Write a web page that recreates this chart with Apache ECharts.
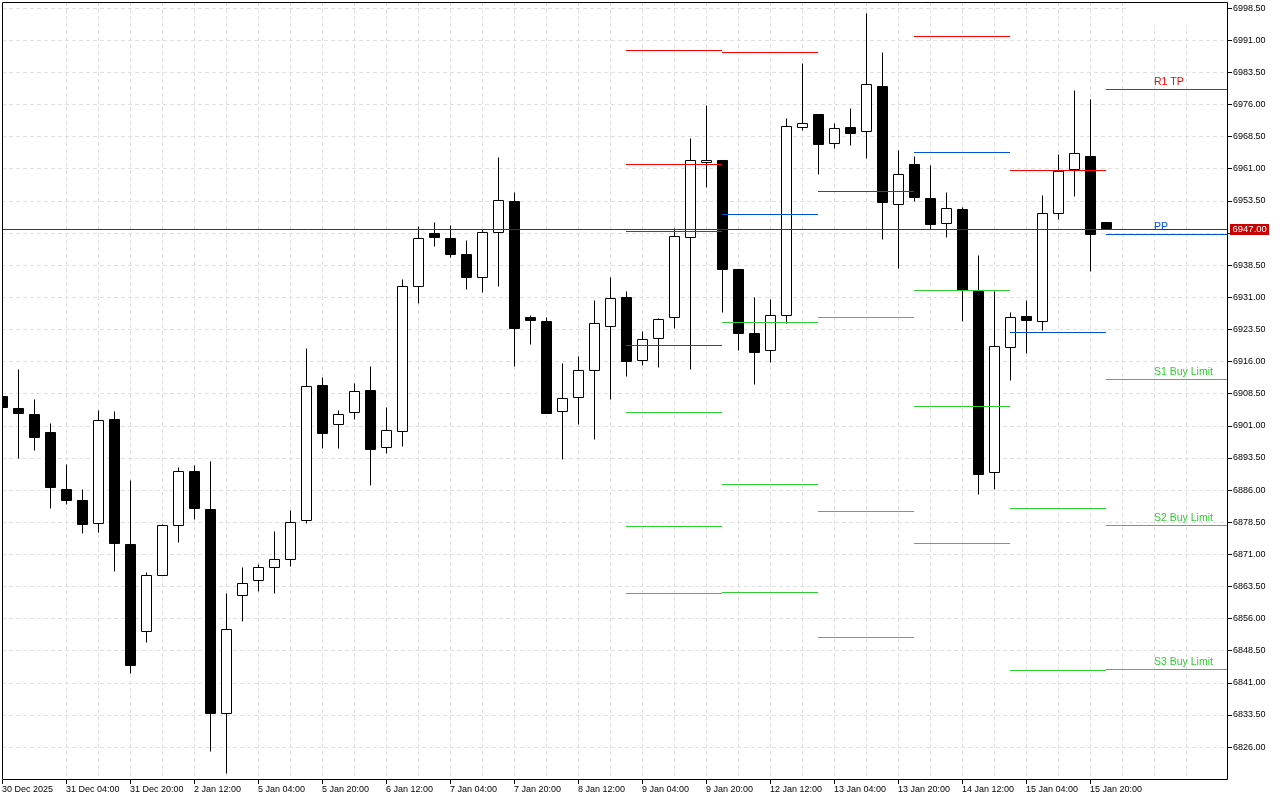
<!DOCTYPE html>
<html>
<head>
<meta charset="utf-8">
<style>html,body{margin:0;padding:0;background:#fff}#chart{width:1280px;height:800px}</style>
<script src="https://cdn.jsdelivr.net/npm/echarts@6/dist/echarts.min.js"></script>
</head>
<body>
<div id="chart"></div>
<script>
// H4 bars, index = bar number from the left edge: [open, close, low, high]
var bars = [
  [6907.9,6905.4,6905.4,6907.9],[6905.1,6904.0,6893.4,6914.3],[6903.7,6898.4,6895.2,6907.3],[6899.5,6886.7,6881.7,6901.5],
  [6886.2,6883.7,6882.6,6892.1],[6883.6,6878.1,6875.9,6886.1],[6878.2,6902.2,6876.1,6904.7],[6902.5,6873.7,6867.0,6904.5],
  [6873.4,6845.0,6843.2,6888.4],[6853.1,6866.0,6850.4,6866.7],[6866.2,6877.7,6866.2,6878.1],[6877.7,6890.3,6873.8,6891.4],
  [6890.4,6881.8,6879.1,6891.9],[6881.5,6834.0,6825.0,6892.8],[6833.8,6853.4,6819.8,6861.8],[6861.4,6864.2,6855.3,6867.9],
  [6864.9,6867.9,6862.3,6868.6],[6867.9,6869.8,6861.9,6876.5],[6869.8,6878.4,6868.2,6881.4],[6878.9,6910.2,6878.2,6919.2],
  [6910.5,6899.3,6895.7,6912.4],[6901.3,6903.6,6895.7,6904.7],[6904.1,6909.0,6902.5,6911.0],[6909.3,6895.6,6887.1,6915.0],
  [6895.9,6899.9,6894.5,6905.4],[6899.8,6933.5,6896.2,6935.1],[6933.5,6944.7,6929.6,6947.5],[6945.9,6945.1,6942.9,6948.6],
  [6944.8,6941.0,6940.3,6947.9],[6941.0,6935.7,6932.8,6944.2],[6935.6,6946.1,6932.1,6946.8],[6946.1,6953.6,6933.5,6963.6],
  [6953.4,6923.8,6914.9,6955.4],[6926.3,6925.6,6920.0,6926.9],[6925.4,6904.0,6904.0,6926.4],[6904.3,6907.4,6893.1,6915.5],
  [6907.6,6913.9,6901.3,6917.3],[6913.9,6924.9,6897.8,6930.2],[6924.2,6930.7,6907.2,6935.6],[6931.0,6916.1,6912.5,6932.3],
  [6916.2,6921.1,6915.1,6923.0],[6921.4,6925.8,6914.6,6926.2],[6926.3,6945.2,6923.7,6947.0],[6944.9,6962.9,6914.1,6968.2],
  [6962.6,6962.9,6956.6,6975.7],[6963.0,6937.6,6927.5,6963.0],[6937.5,6922.7,6918.6,6937.5],[6922.6,6918.2,6910.6,6931.1],
  [6918.6,6926.7,6915.8,6930.6],[6926.7,6970.8,6924.9,6972.7],[6970.6,6971.5,6969.9,6985.5],[6973.7,6966.8,6959.7,6973.7],
  [6966.9,6970.4,6965.7,6971.7],[6970.7,6969.3,6966.4,6975.0],[6969.7,6980.6,6963.4,6997.2],[6980.2,6953.2,6944.5,6988.3],
  [6952.6,6959.6,6937.7,6965.2],[6962.0,6954.4,6953.5,6964.0],[6954.1,6948.1,6946.9,6961.7],[6948.2,6951.7,6945.0,6955.6],
  [6951.5,6932.6,6925.4,6952.0],[6932.5,6889.8,6885.0,6940.9],[6890.1,6919.5,6886.1,6932.3],[6919.3,6926.3,6911.6,6927.4],
  [6926.6,6925.7,6917.9,6930.4],[6925.3,6950.5,6923.4,6954.9],[6950.5,6960.4,6949.3,6964.3],[6960.8,6964.5,6954.5,6979.4],
  [6963.9,6945.8,6937.0,6977.3],[6948.5,6947.0,6947.0,6948.5]
];

// one label every 4 bars, one grid line every 2
var timeLabels = ['30 Dec 2025','31 Dec 04:00','31 Dec 20:00','2 Jan 12:00','5 Jan 04:00','5 Jan 20:00','6 Jan 12:00',
  '7 Jan 04:00','7 Jan 20:00','8 Jan 12:00','9 Jan 04:00','9 Jan 20:00','12 Jan 12:00','13 Jan 04:00','13 Jan 20:00',
  '14 Jan 12:00','15 Jan 04:00','15 Jan 20:00'];
var timeTicks = timeLabels.map(function (t, i) { return i * 4; });
var gridTicks = [];
for (var t = 2; t <= 76; t += 2) gridTicks.push(t);

var priceTicks = [6998.5,6991,6983.5,6976,6968.5,6961,6953.5,6946,6938.5,6931,6923.5,6916,6908.5,6901,6893.5,6886,
  6878.5,6871,6863.5,6856,6848.5,6841,6833.5,6826];

var lastPrice = 6947;
var lastBar = 76.5625;

// daily levels: [from bar, to bar, price]
var redLevels = [[39,45,6988.8],[39,45,6962.2],[39,45,6946.5],[45,51,6988.3],[57,63,6992.0],[63,69,6960.8],[69,lastBar,6979.7]];
var blueLevels = [[39,45,6919.9],[45,51,6950.5],[51,57,6955.9],[57,63,6965.0],[63,69,6923.0],[69,lastBar,6945.8]];
var greenLevels = [[39,45,6904.3],[39,45,6877.7],[39,45,6862.0],[45,51,6925.3],[45,51,6887.5],[45,51,6862.3],
  [51,57,6926.4],[51,57,6881.2],[51,57,6851.8],[57,63,6932.8],[57,63,6905.7],[57,63,6873.7],
  [63,69,6881.9],[63,69,6844.1],[69,lastBar,6912.0],[69,lastBar,6877.9],[69,lastBar,6844.3]];

// level name, price, colour
var levelNames = [['R1 TP',6979.7,'#ff0000'],['PP',6945.8,'#0050d8'],['S1 Buy Limit',6912.0,'#32cd32'],
  ['S2 Buy Limit',6877.9,'#32cd32'],['S3 Buy Limit',6844.3,'#32cd32']];
var labelBar = 72;

var font = '"Liberation Sans", Arial, sans-serif';

// price scale of the plot: price at y = 0 of the page, and price per pixel
var priceAtZero = 7000.437;
var pricePerPx = 0.2334;

// the terminal draws bars on whole pixel rows, so do the same
function snap(p) {
  var row = Math.round((priceAtZero - p) / pricePerPx - 0.5);
  return priceAtZero - (row + 0.5) * pricePerPx;
}

function levelSeries(rows, color) {
  return {
    type: 'custom',
    coordinateSystem: 'cartesian2d',
    xAxisIndex: 0,
    z: 5,
    silent: true,
    data: rows,
    encode: { x: [0, 1], y: 2 },
    renderItem: function (params, api) {
      var a = api.coord([api.value(0), api.value(2)]);
      var b = api.coord([api.value(1), api.value(2)]);
      var y = Math.round(a[1]) + 0.5;
      return {
        type: 'line',
        shape: { x1: Math.floor(a[0]), y1: y, x2: Math.floor(b[0]), y2: y },
        style: { stroke: color, lineWidth: 1 }
      };
    }
  };
}

var chart = echarts.init(document.getElementById('chart'));
var option = {
  animation: false,
  backgroundColor: '#fff',
  grid: { left: 2, top: 2, width: 1226, height: 778, outerBoundsMode: 'none' },
  graphic: [
    // the terminal leaves the top right corner without grid lines
    { type: 'rect', z: 1, silent: true, shape: { x: 1127, y: 3, width: 100, height: 22 }, style: { fill: '#fff' } },
    // first bar is cut off at the left edge of the plot
    { type: 'rect', z: 8, silent: true, shape: { x: 0, y: 3, width: 2, height: 776 }, style: { fill: '#fff' } },
    // plot frame
    { type: 'rect', z: 9, silent: true, shape: { x: 2.5, y: 2.5, width: 1225, height: 777 }, style: { fill: 'none', stroke: '#000', lineWidth: 1 } }
  ],
  // bars sit half a pixel off the ticks, so the series have their own hidden axes
  xAxis: [{
    type: 'value', show: false, min: -0.03125, max: 76.59375
  }, {
    type: 'value', min: 0, max: 76.625,
    axisLine: { show: false }, axisLabel: { show: false },
    axisTick: { show: false, customValues: gridTicks },
    splitLine: { show: true, showMinLine: false, showMaxLine: false, lineStyle: { color: '#e0e0e0', type: [4, 3], width: 1 } }
  }, {
    type: 'value', min: 0, max: 76.625, position: 'bottom',
    splitLine: { show: false },
    axisLine: { show: false, onZero: false },
    axisTick: { show: true, length: 4, customValues: timeTicks, lineStyle: { color: '#000', width: 1 } },
    axisLabel: {
      show: true, align: 'left', margin: 5, color: '#000', fontFamily: font, fontSize: 9, customValues: timeTicks,
      hideOverlap: false,
      formatter: function (v) { return timeLabels[v / 4] || ''; }
    }
  }],
  yAxis: [{
    type: 'value', show: false, min: 6818.385, max: 6999.97, scale: true
  }, {
    type: 'value', position: 'right', min: 6818.327, max: 6999.912, scale: true,
    splitLine: { show: true, lineStyle: { color: '#e0e0e0', type: [4, 3], width: 1 } },
    axisLine: { show: false, onZero: false },
    axisTick: { show: true, length: 4, customValues: priceTicks, lineStyle: { color: '#000', width: 1 } },
    axisLabel: {
      show: true, margin: 5, color: '#000', fontFamily: font, fontSize: 9, customValues: priceTicks,
      formatter: function (v) { return v.toFixed(2); }
    }
  }],
  series: [
    {
      type: 'candlestick',
      xAxisIndex: 0,
      z: 3,
      barWidth: 10,
      clip: true,
      data: bars.map(function (b, i) { return [i, snap(b[0]), snap(b[1]), snap(b[2]), snap(b[3])]; }),
      encode: { x: 0, y: [1, 2, 3, 4] },
      itemStyle: { color: '#fff', color0: '#000', borderColor: '#000', borderColor0: '#000', borderWidth: 1 }
    },
    levelSeries(redLevels, '#ff0000'),
    levelSeries(blueLevels, '#0050d8'),
    levelSeries(greenLevels, '#32cd32'),
    {
      // level names over the last day's lines
      type: 'custom',
      coordinateSystem: 'cartesian2d',
      xAxisIndex: 0,
      z: 6,
      silent: true,
      data: levelNames.map(function (n, i) { return [labelBar, n[1], i]; }),
      encode: { x: 0, y: 1 },
      renderItem: function (params, api) {
        var p = api.coord([api.value(0), api.value(1)]);
        var n = levelNames[api.value(2)];
        return {
          type: 'text',
          style: { x: Math.floor(p[0]), y: Math.round(p[1]) - 7, text: n[0], fill: n[2], font: '10.5px ' + font, textAlign: 'left', textVerticalAlign: 'middle' }
        };
      }
    },
    {
      // last price line and its tag on the axis
      type: 'custom',
      coordinateSystem: 'cartesian2d',
      xAxisIndex: 0,
      z: 7,
      silent: true,
      clip: false,
      data: [[0, lastPrice]],
      encode: { x: 0, y: 1 },
      renderItem: function (params, api) {
        var p = api.coord([0, api.value(1)]);
        var c = params.coordSys;
        var y = Math.round(p[1]) + 0.5;
        var right = c.x + c.width;
        return {
          type: 'group',
          children: [
            { type: 'line', shape: { x1: c.x, y1: y, x2: right - 1, y2: y }, style: { stroke: '#c00000', lineWidth: 1 } },
            { type: 'rect', shape: { x: right + 2, y: y - 5.5, width: 39, height: 11 }, style: { fill: '#c80000' } },
            { type: 'text', style: { x: right + 4.5, y: y, text: lastPrice.toFixed(2), fill: '#fff', font: '9.5px ' + font, textAlign: 'left', textVerticalAlign: 'middle' } }
          ]
        };
      }
    }
  ]
};
chart.setOption(option);
</script>
</body>
</html>
